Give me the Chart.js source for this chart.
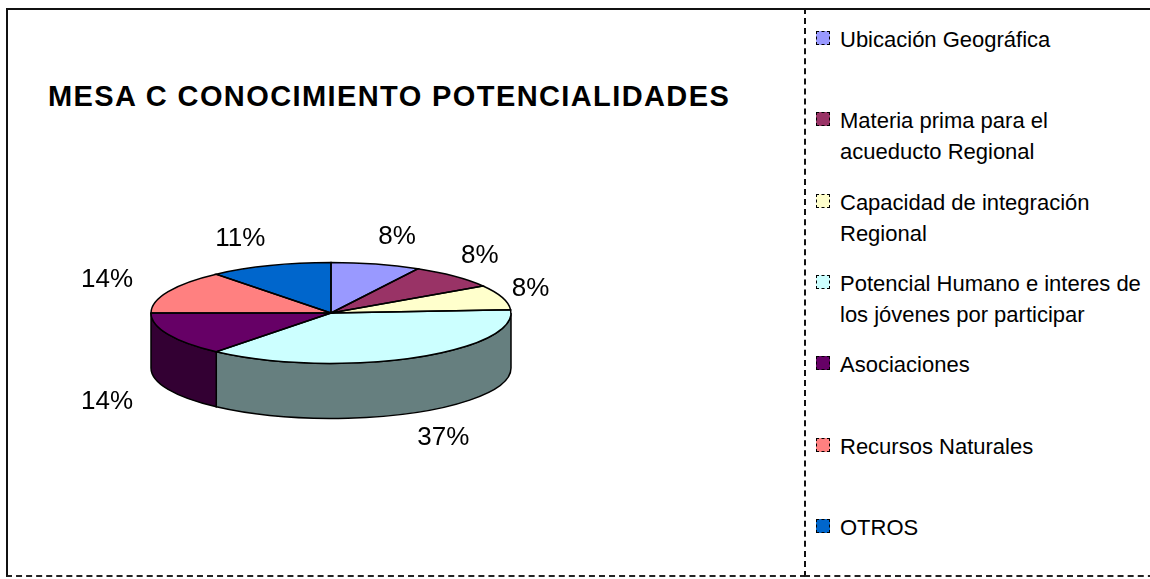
<!DOCTYPE html>
<html>
<head>
<meta charset="utf-8">
<script src="https://cdn.jsdelivr.net/npm/chart.js@4"></script>
<style>
    body { margin: 0; background: #fff; font-family: "Liberation Sans", Arial, sans-serif; }
    #wrap { position: relative; width: 1150px; height: 579px; overflow: hidden; }
    #chart { position: absolute; left: 0; top: 0; }
    .panel-left { position: absolute; left: 6px; top: 8px; width: 800px; height: 569px; box-sizing: border-box;
        border-top: 2px solid #111; border-left: 2px solid #111; border-bottom: 2px dashed #222; }
    .panel-right { position: absolute; left: 804px; top: 8px; width: 360px; height: 569px; box-sizing: border-box;
        border-top: 2px solid #111; border-left: 2px dashed #111; border-bottom: 2px dashed #222; }
    .title { position: absolute; left: 48px; top: 80px; font-size: 29px; font-weight: bold; letter-spacing: 1.4px;
        line-height: 32px; color: #000; white-space: nowrap; }
    .item { position: absolute; left: 840px; width: 306px; font-size: 22px; line-height: 31px; color: #000; }
    .swatch { position: absolute; left: -24px; top: 7px; width: 14px; height: 14px; box-sizing: border-box;
        border: 1.5px dashed #000; }
</style>
</head>
<body>
<div id="wrap">
    <div class="panel-left"></div>
    <div class="panel-right"></div>
    <div class="title">MESA C CONOCIMIENTO POTENCIALIDADES</div>
    <div id="legend"></div>
    <canvas id="chart" width="1150" height="579"></canvas>
</div>
<script>
// data
const categories = [
    'Ubicación Geográfica',
    'Materia prima para el acueducto Regional',
    'Capacidad de integración Regional',
    'Potencial Humano e interes de los jóvenes por participar',
    'Asociaciones',
    'Recursos Naturales',
    'OTROS'
];
const shares = [8, 8, 8, 37, 14, 14, 11];
const topColors = ['#9999FF', '#993366', '#FFFFCC', '#CCFFFF', '#660066', '#FF8080', '#0066CC'];

const TILT = 0.28;   // vertical squash of the pie
const DEPTH = 55;    // height of the side wall

function darken(hex) {
    const n = parseInt(hex.slice(1), 16);
    const r = (n >> 16) >> 1, g = ((n >> 8) & 255) >> 1, b = (n & 255) >> 1;
    return `rgb(${r},${g},${b})`;
}
const sideColors = topColors.map(darken);

// legend
document.getElementById('legend').innerHTML = categories.map((name, i) => `
    <div class="item" style="top:${Math.round(24 + i * 81.3)}px">
        <span class="swatch" style="background:${topColors[i]}"></span>${name}
    </div>`).join('');

const pie3d = {
    id: 'pie3d',
    beforeDatasetsDraw(chart) {
        const ctx = chart.ctx;
        const arcs = chart.getDatasetMeta(0).data;
        const { x: cx, y: cy, outerRadius: r } = arcs[0];
        const ry = r * TILT;
        ctx.save();
        ctx.lineWidth = 1.5;
        ctx.strokeStyle = '#000';
        // only the front half of the wall (0..PI) is visible
        arcs.forEach((arc, i) => {
            const lo = Math.max(arc.startAngle, 0);
            const hi = Math.min(arc.endAngle, Math.PI);
            if (hi <= lo) return;
            ctx.beginPath();
            ctx.ellipse(cx, cy, r, ry, 0, lo, hi);
            ctx.lineTo(cx + r * Math.cos(hi), cy + ry * Math.sin(hi) + DEPTH);
            ctx.ellipse(cx, cy + DEPTH, r, ry, 0, hi, lo, true);
            ctx.closePath();
            ctx.fillStyle = sideColors[i];
            ctx.fill();
            ctx.stroke();
        });
        ctx.restore();
        // squash the top face drawn by the library
        ctx.save();
        ctx.translate(cx, cy);
        ctx.scale(1, TILT);
        ctx.translate(-cx, -cy);
    },
    afterDatasetsDraw(chart) {
        const ctx = chart.ctx;
        ctx.restore();
        const arcs = chart.getDatasetMeta(0).data;
        const { x: cx, y: cy, outerRadius: r } = arcs[0];
        const ry = r * TILT;
        const total = shares.reduce((a, b) => a + b, 0);
        ctx.save();
        ctx.lineWidth = 1.5;
        ctx.strokeStyle = '#000';
        arcs.forEach(arc => {
            ctx.beginPath();
            ctx.moveTo(cx, cy);
            ctx.lineTo(cx + r * Math.cos(arc.startAngle), cy + ry * Math.sin(arc.startAngle));
            ctx.ellipse(cx, cy, r, ry, 0, arc.startAngle, arc.endAngle);
            ctx.closePath();
            ctx.stroke();
        });
        // percentage labels
        ctx.font = '26px "Liberation Sans", Arial, sans-serif';
        ctx.fillStyle = '#000';
        ctx.textBaseline = 'middle';
        arcs.forEach((arc, i) => {
            const mid = (arc.startAngle + arc.endAngle) / 2;
            const c = Math.cos(mid), s = Math.sin(mid);
            const gap = c < 0 ? 10 + 35 * c * c : 10;
            const x = cx + (r + gap) * c;
            const y = cy + (ry + 28) * s + (s > 0 ? DEPTH : 0);
            ctx.textAlign = c >= 0 ? 'left' : 'right';
            ctx.fillText(Math.round(shares[i] / total * 100) + '%', x, y);
        });
        ctx.restore();
    }
};

new Chart(document.getElementById('chart'), {
    type: 'pie',
    data: {
        labels: categories,
        datasets: [{
            data: shares,
            backgroundColor: topColors,
            borderWidth: 0,
            hoverOffset: 0
        }]
    },
    options: {
        responsive: false,
        animation: false,
        events: [],
        radius: 180,
        layout: { padding: { left: 150, right: 638, top: 132, bottom: 85 } },
        plugins: {
            legend: { display: false },
            title: { display: false },
            tooltip: { enabled: false }
        }
    },
    plugins: [pie3d]
});
</script>
</body>
</html>
